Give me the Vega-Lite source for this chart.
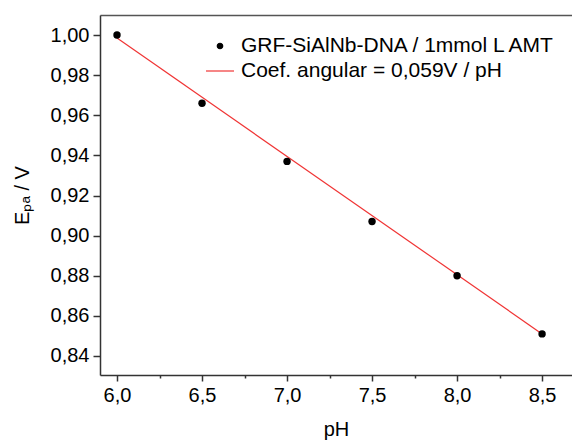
{
  "$schema": "https://vega.github.io/schema/vega-lite/v6.json",
  "width": 472,
  "height": 360,
  "autosize": "none",
  "padding": {"left": 100, "top": 15, "right": 0, "bottom": 68},
  "background": "white",
  "config": {"view": {"stroke": null}, "font": "Liberation Sans"},
  "datasets": {
    "pts": [
      {"pH": 6.0, "E": 1.000, "series": "GRF-SiAlNb-DNA / 1mmol L AMT"},
      {"pH": 6.5, "E": 0.966, "series": "GRF-SiAlNb-DNA / 1mmol L AMT"},
      {"pH": 7.0, "E": 0.937, "series": "GRF-SiAlNb-DNA / 1mmol L AMT"},
      {"pH": 7.5, "E": 0.907, "series": "GRF-SiAlNb-DNA / 1mmol L AMT"},
      {"pH": 8.0, "E": 0.880, "series": "GRF-SiAlNb-DNA / 1mmol L AMT"},
      {"pH": 8.5, "E": 0.851, "series": "GRF-SiAlNb-DNA / 1mmol L AMT"}
    ],
    "fit": [
      {"pH": 6.0, "E": 0.9985, "series": "Coef. angular = 0,059V / pH"},
      {"pH": 8.5, "E": 0.851, "series": "Coef. angular = 0,059V / pH"}
    ]
  },
  "layer": [
    {
      "data": {"name": "fit"},
      "mark": {"type": "line", "strokeWidth": 1.2, "clip": true},
      "encoding": {
        "x": {
          "field": "pH", "type": "quantitative",
          "scale": {"domain": [5.9, 8.676], "nice": false, "zero": false},
          "axis": {
            "orient": "bottom",
            "title": "pH",
            "titleFontSize": 20, "titleFontWeight": "normal", "titleColor": "black", "titlePadding": 14,
            "values": [6, 6.25, 6.5, 6.75, 7, 7.25, 7.5, 7.75, 8, 8.25, 8.5],
            "labelExpr": "round(datum.value*100) % 50 == 0 ? replace(format(datum.value, '.1f'), '.', ',') : ''",
            "labelFontSize": 20, "labelColor": "black", "labelPadding": 4,
            "grid": false,
            "domainColor": "#333", "domainWidth": 1.5,
            "tickColor": "#333", "tickWidth": 1.5,
            "tickSize": {"condition": {"test": "round(datum.value*100) % 50 == 0", "value": 6}, "value": 3}
          }
        },
        "y": {
          "field": "E", "type": "quantitative",
          "scale": {"domain": [0.8305, 1.01], "nice": false, "zero": false},
          "axis": {
            "title": "Eₚₐ / V",
            "titleFontSize": 20, "titleFontWeight": "normal", "titleColor": "black", "titlePadding": 18,
            "values": [0.84, 0.85, 0.86, 0.87, 0.88, 0.89, 0.9, 0.91, 0.92, 0.93, 0.94, 0.95, 0.96, 0.97, 0.98, 0.99, 1.0],
            "labelExpr": "round(datum.value*100) % 2 == 0 ? replace(format(datum.value, '.2f'), '.', ',') : ''",
            "labelFontSize": 20, "labelColor": "black", "labelPadding": 4,
            "grid": false,
            "domainColor": "#333", "domainWidth": 1.5,
            "tickColor": "#333", "tickWidth": 1.5,
            "tickSize": {"condition": {"test": "round(datum.value*100) % 2 == 0", "value": 7}, "value": 3}
          }
        },
        "color": {
          "field": "series", "type": "nominal",
          "scale": {
            "domain": ["GRF-SiAlNb-DNA / 1mmol L AMT", "Coef. angular = 0,059V / pH"],
            "range": ["black", "#f03434"]
          },
          "legend": {
            "orient": "none", "legendX": 105, "legendY": 16,
            "title": null, "padding": 0,
            "labelFontSize": 21, "labelColor": "black", "labelLimit": 600, "labelOffset": 6,
            "symbolSize": 784, "rowPadding": 0,
            "encode": {
              "symbols": {
                "update": {
                  "shape": {"signal": "datum.value == 'GRF-SiAlNb-DNA / 1mmol L AMT' ? 'circle' : 'stroke'"},
                  "size": {"signal": "datum.value == 'GRF-SiAlNb-DNA / 1mmol L AMT' ? 30 : 784"},
                  "fill": {"signal": "datum.value == 'GRF-SiAlNb-DNA / 1mmol L AMT' ? 'black' : 'transparent'"},
                  "stroke": {"signal": "datum.value == 'GRF-SiAlNb-DNA / 1mmol L AMT' ? 'black' : '#f03434'"},
                  "strokeWidth": {"value": 1.2},
                  "opacity": {"value": 1}
                }
              }
            }
          }
        }
      }
    },
    {
      "data": {"name": "pts"},
      "mark": {"type": "point", "filled": true, "size": 55, "opacity": 1},
      "encoding": {
        "x": {
          "field": "pH", "type": "quantitative",
          "axis": {"orient": "top", "title": null, "labels": false, "ticks": false, "grid": false, "domainColor": "#555", "domainWidth": 1.5}
        },
        "y": {"field": "E", "type": "quantitative"},
        "color": {"field": "series", "type": "nominal"}
      }
    }
  ],
  "resolve": {"axis": {"x": "independent"}}
}
